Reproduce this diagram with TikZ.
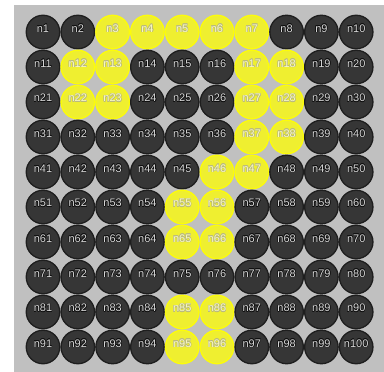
\documentclass[tikz,border=0pt]{standalone}
\usepackage{fontspec}
\setmainfont{Liberation Sans}
\definecolor{bggray}{RGB}{192,192,192}
\definecolor{darkfill}{RGB}{54,54,54}
\definecolor{darkedge}{RGB}{30,30,30}
\definecolor{yelfill}{RGB}{239,239,48}
\definecolor{yeledge}{RGB}{252,252,10}
\definecolor{olc}{RGB}{15,15,15}
\definecolor{olcy}{RGB}{185,185,130}
\newcommand\otxt[2]{\begingroup\setbox0\hbox{#2}%
\rlap{\color{#1}\raise0.55pt\copy0}\rlap{\color{#1}\lower0.55pt\copy0}%
\rlap{\color{#1}\kern0.55pt\copy0}\rlap{\color{#1}\kern-0.55pt\copy0}%
\rlap{\color{#1}\kern0.4pt\raise0.4pt\copy0}\rlap{\color{#1}\kern-0.4pt\raise0.4pt\copy0}%
\rlap{\color{#1}\kern0.4pt\lower0.4pt\copy0}\rlap{\color{#1}\kern-0.4pt\lower0.4pt\copy0}%
\box0\endgroup}
\tikzset{
  ball/.style={circle, minimum size=33.5pt, inner sep=0pt, line width=1.3pt, font=\fontsize{11}{12}\selectfont},
  darkball/.style={ball, fill=darkfill, draw=darkedge, text=white!85!black},
  yelball/.style={ball, fill=yelfill, draw=yeledge, text=yelfill!30!white},
}
\begin{document}
\begin{tikzpicture}[x=1pt,y=-1pt]
\fill[white] (0,0) rectangle (384,372);
\fill[bggray] (14,5) rectangle (384,372);
\useasboundingbox (0,0) rectangle (384,372);
\foreach \i in {1,...,100}{
  \pgfmathtruncatemacro\r{int((\i-1)/10)}
  \pgfmathtruncatemacro\c{mod(\i-1,10)}
  \def\sty{darkball}\def\oc{olc}
  \foreach \y in {3,4,5,6,7,12,13,17,18,22,23,27,28,37,38,46,47,55,56,65,66,85,86,95,96}{
    \ifnum\i=\y\relax\xdef\sty{yelball}\xdef\oc{olcy}\fi}
  \node[\sty] (n\i) at ({43+34.8*\c},{32+35*\r}) {\raisebox{0pt}[0pt][0pt]{\otxt{\oc}{n\i}}};
  \gdef\sty{darkball}\gdef\oc{olc}
}
\end{tikzpicture}
\end{document}
